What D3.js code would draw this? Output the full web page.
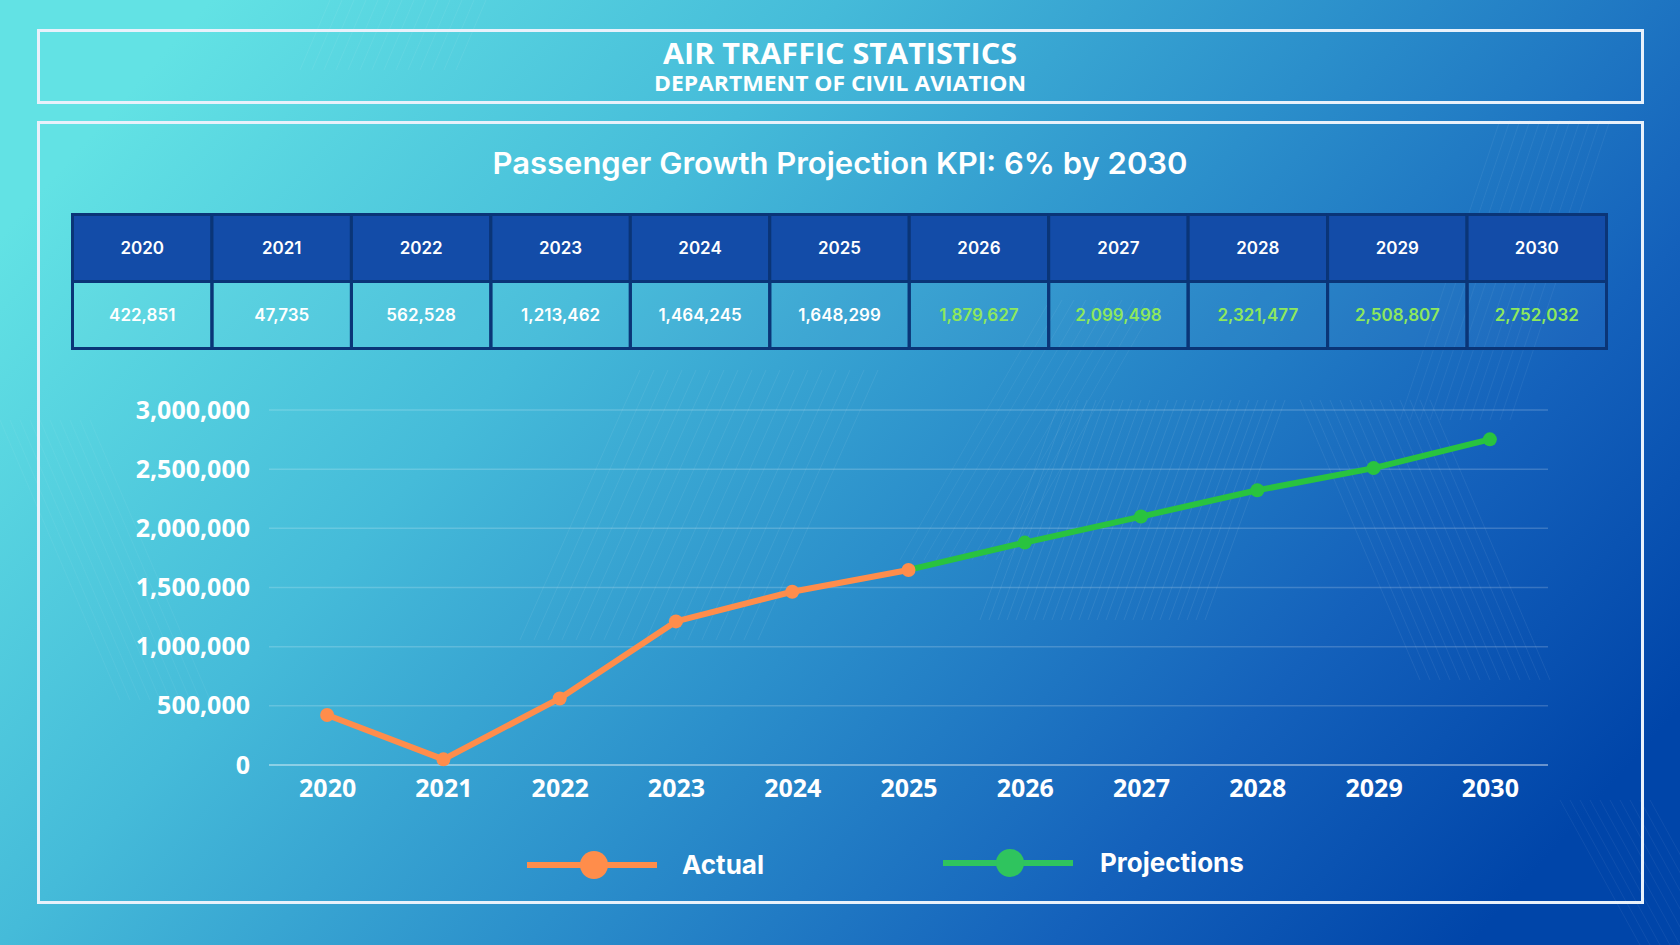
<!DOCTYPE html>
<html><head><meta charset="utf-8">
<script src="https://cdn.jsdelivr.net/npm/d3@7/dist/d3.min.js"></script>
<style>html,body{margin:0;padding:0;overflow:hidden;background:#2a8ccb}</style>
</head><body>
<svg id="c" width="1680" height="945"></svg>
<script>
const years = ["2020","2021","2022","2023","2024","2025","2026","2027","2028","2029","2030"];
const passengers = [422851, 47735, 562528, 1213462, 1464245, 1648299, 1879627, 2099498, 2321477, 2508807, 2752032];
const actualYears = ["2020","2021","2022","2023","2024","2025"];
const projectionYears = ["2025","2026","2027","2028","2029","2030"];
const yTicks = [0, 500000, 1000000, 1500000, 2000000, 2500000, 3000000];
const legendLabels = ["Actual", "Projections"];

const W = 1680, H = 945;
const svg = d3.select("#c");
const defs = svg.append("defs");
const bg = defs.append("linearGradient").attr("id","bg").attr("x1","0").attr("y1","0.25").attr("x2","1").attr("y2","0.75");
[["0%","#62e2e4"],["30%","#45bbd9"],["55%","#2b8fcb"],["80%","#1461bb"],["100%","#0045a9"]].forEach(s=>bg.append("stop").attr("offset",s[0]).attr("stop-color",s[1]));
svg.append("rect").attr("width",W).attr("height",H).attr("fill","url(#bg)");

// decorative faint diagonal line clusters
const deco = svg.append("g").attr("stroke","#ffffff").attr("fill","none");
function cluster(x0,y0,x1,y1,n,dx,op){
  for(let i=0;i<n;i++){
    deco.append("line").attr("x1",x0+i*dx).attr("y1",y0).attr("x2",x1+i*dx).attr("y2",y1)
      .attr("stroke-opacity",op).attr("stroke-width",1);
  }
}
cluster(640,370,520,640,18,14,0.07);
cluster(1060,400,980,620,26,9,0.08);
cluster(1300,400,1420,680,14,10,0.07);
cluster(900,560,1050,300,10,12,0.06);
cluster(0,420,120,700,10,10,0.06);
cluster(1500,120,1400,420,12,10,0.06);
cluster(330,0,300,70,14,12,0.07);
cluster(1560,800,1640,945,10,10,0.06);

// frames
svg.append("rect").attr("x",38.5).attr("y",30.5).attr("width",1604).attr("height",72)
  .attr("fill","none").attr("stroke","#e8f1fb").attr("stroke-width",3);
svg.append("rect").attr("x",38.5).attr("y",122.5).attr("width",1604).attr("height",780)
  .attr("fill","none").attr("stroke","#e8f1fb").attr("stroke-width",3);

svg.append("text").attr("x",840).attr("y",64).attr("text-anchor","middle")
  .attr("font-family","Open Sans").attr("font-weight",700).attr("font-size",28)
  .attr("fill","#fff").attr("textLength",354).attr("lengthAdjust","spacingAndGlyphs").text("AIR TRAFFIC STATISTICS");
svg.append("text").attr("x",840).attr("y",91).attr("text-anchor","middle")
  .attr("font-family","Open Sans").attr("font-weight",700).attr("font-size",21)
  .attr("fill","#fff").attr("textLength",372).attr("lengthAdjust","spacingAndGlyphs").text("DEPARTMENT OF CIVIL AVIATION");

svg.append("text").attr("x",840).attr("y",174).attr("text-anchor","middle")
  .attr("font-family","Inter").attr("font-weight",600).attr("font-size",30)
  .attr("fill","#fff").attr("textLength",695).attr("lengthAdjust","spacingAndGlyphs").text("Passenger Growth Projection KPI: 6% by 2030");

// table
const tx = d3.scaleBand().domain(years).range([72.5,1606.5]);
const tRowH = [214.5,281.5,348.5];
const tbl = svg.append("g");
tbl.selectAll("rect.h").data(years).join("rect")
  .attr("x",d=>tx(d)).attr("y",tRowH[0]).attr("width",tx.bandwidth()).attr("height",tRowH[1]-tRowH[0])
  .attr("fill","#134ca8").attr("stroke","#0a3577").attr("stroke-width",3);
tbl.selectAll("rect.v").data(years).join("rect")
  .attr("x",d=>tx(d)).attr("y",tRowH[1]).attr("width",tx.bandwidth()).attr("height",tRowH[2]-tRowH[1])
  .attr("fill","#ffffff").attr("fill-opacity",0.03).attr("stroke","#0a3577").attr("stroke-width",3);
tbl.selectAll("text.h").data(years).join("text")
  .attr("x",d=>tx(d)+tx.bandwidth()/2).attr("y",(tRowH[0]+tRowH[1])/2+6).attr("text-anchor","middle")
  .attr("font-family","Inter").attr("font-weight",600).attr("font-size",17).attr("fill","#fff").text(d=>d);
const fmt = d3.format(",");
tbl.selectAll("text.v").data(years).join("text")
  .attr("x",d=>tx(d)+tx.bandwidth()/2).attr("y",(tRowH[1]+tRowH[2])/2+6).attr("text-anchor","middle")
  .attr("font-family","Inter").attr("font-weight",600).attr("font-size",17)
  .attr("fill",(d,i)=>projectionYears.includes(d)&&d!=="2025" ? "#8ee85c" : "#fff")
  .text((d,i)=>fmt(passengers[i]));

// chart
const x = d3.scalePoint().domain(years).range([269,1548]).padding(0.5);
const y = d3.scaleLinear().domain([0,3000000]).range([765,410]);
const grid = svg.append("g");
grid.selectAll("line").data(yTicks).join("line")
  .attr("x1",269).attr("x2",1548).attr("y1",d=>y(d)).attr("y2",d=>y(d))
  .attr("stroke","#ffffff").attr("stroke-opacity",d=>d===0?0.4:0.18).attr("stroke-width",d=>d===0?2:1.5);

const yAxis = svg.append("g").attr("transform","translate(250,0)")
  .call(d3.axisLeft(y).tickValues(yTicks).tickFormat(fmt).tickSize(0).tickPadding(0));
yAxis.select(".domain").remove();
yAxis.selectAll("text").attr("font-family","Open Sans").attr("font-weight",700).attr("font-size",25).attr("fill","#fff").attr("dy","0.32em");

const xAxis = svg.append("g").attr("transform","translate(0,776)")
  .call(d3.axisBottom(x).tickSize(0).tickPadding(0));
xAxis.select(".domain").remove();
xAxis.selectAll("text").attr("font-family","Open Sans").attr("font-weight",700).attr("font-size",25).attr("fill","#fff").attr("dy","0.85em");

const val = d => passengers[years.indexOf(d)];
const line = d3.line().x(d=>x(d)).y(d=>y(val(d)));
const ORANGE = "#ff8d4b", GREEN = "#29c33f";
svg.append("path").datum(projectionYears).attr("d",line).attr("fill","none").attr("stroke",GREEN).attr("stroke-width",6).attr("stroke-linejoin","round");
svg.append("path").datum(actualYears).attr("d",line).attr("fill","none").attr("stroke",ORANGE).attr("stroke-width",6).attr("stroke-linejoin","round");
svg.append("g").selectAll("circle").data(projectionYears.slice(1)).join("circle")
  .attr("cx",d=>x(d)).attr("cy",d=>y(val(d))).attr("r",7).attr("fill",GREEN);
svg.append("g").selectAll("circle").data(actualYears).join("circle")
  .attr("cx",d=>x(d)).attr("cy",d=>y(val(d))).attr("r",7).attr("fill",ORANGE);

// legend
const legend = [
  {label:legendLabels[0], color:"#ff8d4b", x0:527, x1:657, cx:594, ty:865, tx:682},
  {label:legendLabels[1], color:"#2fc45e", x0:943, x1:1073, cx:1010, ty:863, tx:1100}
];
const lg = svg.append("g");
legend.forEach(l=>{
  lg.append("line").attr("x1",l.x0).attr("x2",l.x1).attr("y1",l.ty).attr("y2",l.ty).attr("stroke",l.color).attr("stroke-width",6);
  lg.append("circle").attr("cx",l.cx).attr("cy",l.ty).attr("r",14).attr("fill",l.color);
  lg.append("text").attr("x",l.tx).attr("y",l.ty+9).attr("font-family","Inter").attr("font-weight",700).attr("font-size",26).attr("fill","#fff").text(l.label);
});
</script>
</body></html>
